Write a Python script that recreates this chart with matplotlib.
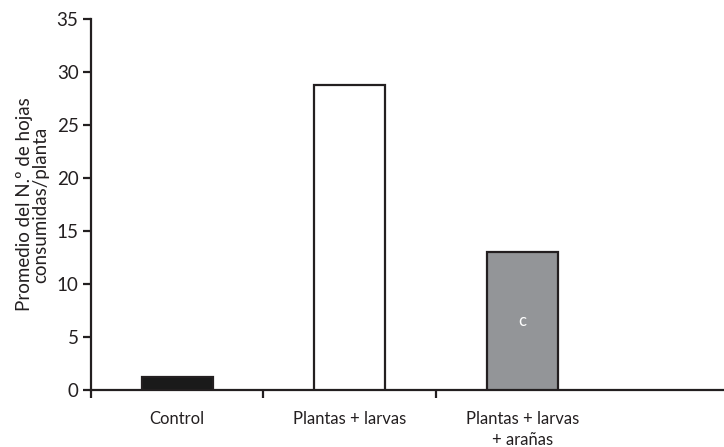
import numpy as np
import matplotlib.pyplot as plt

plt.rcParams['font.family'] = ['Lato', 'DejaVu Sans']

categories = ['Control', 'Plantas + larvas', 'Plantas + larvas\n+ arañas']
values = [1.2, 28.8, 13.0]
colors = ['#1a1a1a', '#ffffff', '#939598']
bar_labels = ['', '', 'c']

fig = plt.figure(figsize=(7.24, 4.47), dpi=100)
ax = fig.add_axes([0.1257, 0.1275, 0.8743, 0.83])

x = np.arange(len(categories))
bars = ax.bar(x, values, width=0.41, color=colors, edgecolor='#231f20', linewidth=1.6, zorder=3)

for b, lab in zip(bars, bar_labels):
    if lab:
        ax.text(b.get_x() + b.get_width() / 2, b.get_height() / 2, lab,
                ha='center', va='center', color='white', fontsize=12, zorder=4)

ax.set_xlim(-0.5, 3.17)
ax.set_ylim(0, 35)
ax.set_yticks(np.arange(0, 36, 5))
ax.set_xticks(x)
ax.set_xticklabels(categories, fontsize=12, color='#231f20', linespacing=1.4)
ax.set_xticks([-0.5, 0.5, 1.5], minor=True)
ax.tick_params(axis='x', which='major', length=0, pad=15)
ax.tick_params(axis='x', which='minor', length=6, width=1.6, direction='out', color='#231f20')
ax.tick_params(axis='y', length=6, width=1.6, labelsize=13.5, color='#231f20', labelcolor='#231f20', pad=3)

for s in ['top', 'right']:
    ax.spines[s].set_visible(False)
for s in ['left', 'bottom']:
    ax.spines[s].set_linewidth(1.6)
    ax.spines[s].set_color('#231f20')

ax.set_ylabel('Promedio del N.º de hojas\nconsumidas/planta', fontsize=13.5,
              color='#231f20', linespacing=1.0, labelpad=5)

fig.savefig('out.png', dpi=100)
